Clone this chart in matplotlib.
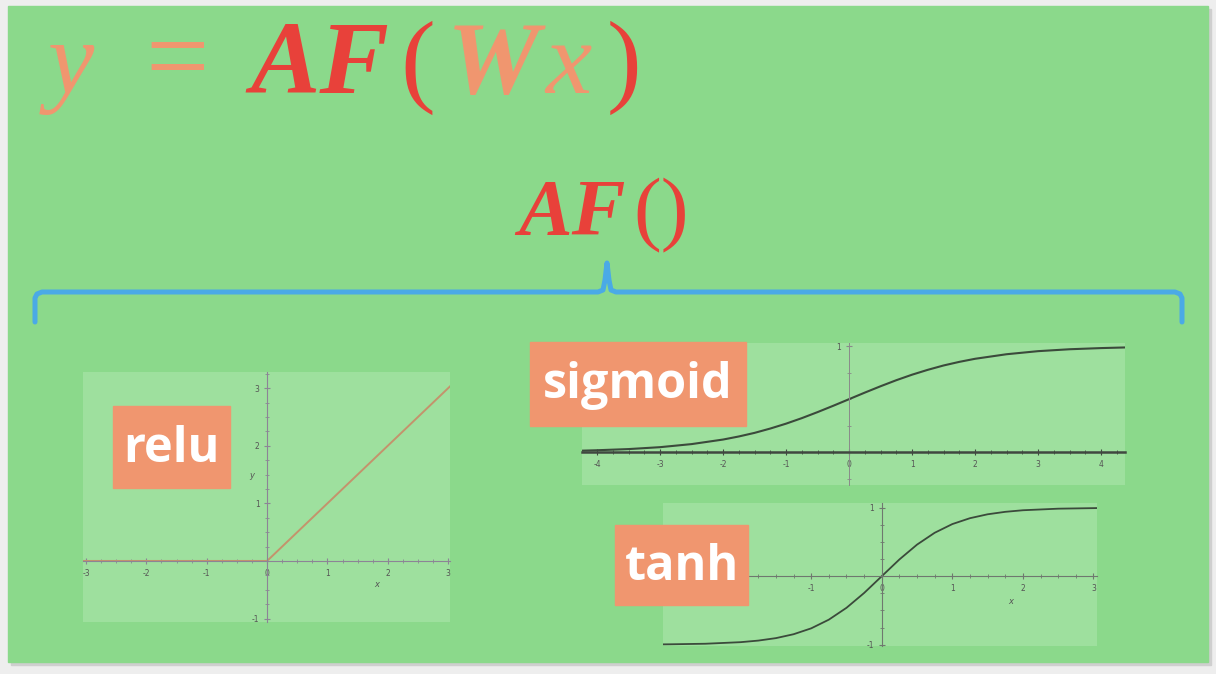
import numpy as np
import matplotlib
matplotlib.use("Agg")
import matplotlib.pyplot as plt
from matplotlib.patches import Rectangle
from matplotlib.ticker import MultipleLocator

plt.rcParams["axes.unicode_minus"] = False

# ---- data ----
relu_x = [-3.05, 0.0, 3.03]
relu_y = [0.0, 0.0, 3.03]

sig_x = [-4.24, -4.0, -3.5, -3.0, -2.5, -2.0, -1.75, -1.5, -1.25, -1.0, -0.75, -0.5, -0.25,
         0.0, 0.25, 0.5, 0.75, 1.0, 1.25, 1.5, 1.75, 2.0, 2.5, 3.0, 3.5, 4.0, 4.38]
sig_y = [0.014, 0.018, 0.029, 0.047, 0.076, 0.119, 0.148, 0.182, 0.223, 0.269, 0.321, 0.378, 0.438,
         0.500, 0.562, 0.622, 0.679, 0.731, 0.777, 0.818, 0.852, 0.881, 0.924, 0.953, 0.971, 0.982, 0.988]

tanh_x = [-3.1, -3.0, -2.5, -2.0, -1.75, -1.5, -1.25, -1.0, -0.75, -0.5, -0.25,
          0.0, 0.25, 0.5, 0.75, 1.0, 1.25, 1.5, 1.75, 2.0, 2.5, 3.0, 3.05]
tanh_y = [-0.996, -0.995, -0.987, -0.964, -0.941, -0.905, -0.848, -0.762, -0.635, -0.462, -0.245,
          0.0, 0.245, 0.462, 0.635, 0.762, 0.848, 0.905, 0.941, 0.964, 0.987, 0.995, 0.996]

relu_xticks = [-3, -2, -1, 0, 1, 2, 3]
relu_yticks = [-1, 1, 2, 3]
sig_xticks = [-4, -3, -2, -1, 0, 1, 2, 3, 4]
sig_yticks = [1]
tanh_xticks = [-1, 0, 1, 2, 3]
tanh_yticks = [-1, 1]

W, H = 1216, 674
SLIDE = "#8bd98b"
PANEL = "#9ee09e"
SALMON = "#f0966f"
RED = "#e8413a"
BLUE = "#4aaae6"

fig = plt.figure(figsize=(W / 100, H / 100), dpi=100)
fig.patch.set_facecolor("#eeeeee")

bg = fig.add_axes([0, 0, 1, 1], zorder=-1)
bg.set_xlim(0, W)
bg.set_ylim(H, 0)
bg.axis("off")

# slide with a soft shadow
bg.add_patch(Rectangle((11, 9), 1200, 656, color="#cfcfcf"))
bg.add_patch(Rectangle((8, 6), 1200, 656, color=SLIDE))

# y = AF(Wx)
base = 93
fs = 75
bg.text(48, base, "y", fontsize=fs, family="Liberation Serif", style="italic", color=SALMON)
bg.text(145, base, "=", fontsize=fs + 6, family="Liberation Serif", color=SALMON)
bg.text(250, base, "AF", fontsize=fs, family="Liberation Serif", style="italic", weight="bold", color=RED)
bg.text(400, base, "(", fontsize=fs, family="Liberation Serif", color=RED)
bg.text(447, base, "W", fontsize=fs, family="Liberation Serif", style="italic", weight="bold", color=SALMON)
bg.text(545, base, "x", fontsize=fs, family="Liberation Serif", style="italic", color=SALMON)
bg.text(607, base, ")", fontsize=fs, family="Liberation Serif", color=RED)

# AF()
bg.text(518, 235, "AF", fontsize=58, family="Liberation Serif", style="italic", weight="bold", color=RED)
bg.text(633, 235, "()", fontsize=60, family="Liberation Serif", color=RED)

# curly brace
bx = [35, 35, 37, 42, 598, 603, 605, 607, 609, 611, 616, 1175, 1180, 1182, 1182]
by = [322, 298, 294, 292, 292, 290, 280, 263, 280, 290, 292, 292, 294, 298, 322]
bg.plot(bx, by, color=BLUE, lw=3.6, solid_joinstyle="round", solid_capstyle="round")


def panel(x0, y0, x1, y1):
    ax = fig.add_axes([x0 / W, 1 - y1 / H, (x1 - x0) / W, (y1 - y0) / H])
    ax.set_facecolor(PANEL)
    for s in ["top", "right"]:
        ax.spines[s].set_visible(False)
    ax.spines["left"].set_position("zero")
    ax.spines["bottom"].set_position("zero")
    ax.xaxis.set_minor_locator(MultipleLocator(0.25))
    ax.yaxis.set_minor_locator(MultipleLocator(0.25))
    ax.tick_params(which="both", direction="inout", labelsize=5.5, labelcolor="#555555", pad=3)
    ax.tick_params(which="major", length=5, width=0.8)
    ax.tick_params(which="minor", length=3, width=0.6)
    return ax


# relu panel
ax = panel(83, 372, 450, 622)
ax.plot(relu_x, relu_y, color="#c4936c", lw=1.4)
ax.set_xlim(-3.05, 3.03)
ax.set_ylim(-1.06, 3.28)
ax.set_xticks(relu_xticks)
ax.set_yticks(relu_yticks)
for s in ["left", "bottom"]:
    ax.spines[s].set_color("#8c8496")
ax.tick_params(which="both", color="#8c8496")
ax.text(-0.3, 1.44, "y", fontsize=6, style="italic", color="#555555")
ax.text(1.78, -0.45, "x", fontsize=6, style="italic", color="#555555")

# sigmoid panel
ax = panel(582, 343, 1125, 485)
ax.plot(sig_x, sig_y, color="#3b4a3b", lw=1.5)
ax.set_xlim(-4.24, 4.38)
ax.set_ylim(-0.31, 1.03)
ax.set_xticks(sig_xticks)
ax.set_yticks(sig_yticks)
ax.spines["bottom"].set_color("#404840")
ax.spines["bottom"].set_linewidth(1.8)
ax.spines["left"].set_color("#8a8a8a")
ax.spines["left"].set_linewidth(0.7)
ax.tick_params(axis="x", which="both", color="#404840")
ax.tick_params(axis="y", which="both", color="#8a8a8a")

# tanh panel
ax = panel(663, 503, 1097, 646)
ax.plot(tanh_x, tanh_y, color="#3b4a3b", lw=1.3)
ax.set_xlim(-3.1, 3.05)
ax.set_ylim(-1.02, 1.07)
ax.set_xticks(tanh_xticks)
ax.set_yticks(tanh_yticks)
for s in ["left", "bottom"]:
    ax.spines[s].set_color("#6f786f")
ax.tick_params(which="both", color="#6f786f")
ax.text(1.79, -0.4, "x", fontsize=6, style="italic", color="#555555")

# name tags on top
fg = fig.add_axes([0, 0, 1, 1], zorder=5)
fg.set_xlim(0, W)
fg.set_ylim(H, 0)
fg.patch.set_alpha(0)
fg.axis("off")

tags = [("relu", 113, 406, 230, 488), ("sigmoid", 530, 342, 746, 426), ("tanh", 615, 525, 748, 605)]
for name, x0, y0, x1, y1 in tags:
    fg.add_patch(Rectangle((x0, y0), x1 - x0, y1 - y0, color="#f0966f"))
    fg.text((x0 + x1) / 2, (y0 + y1) / 2 + 2, name, fontsize=35, family="Open Sans",
            weight="bold", color="white", ha="center", va="center")

fig.savefig("out.png", dpi=100)
